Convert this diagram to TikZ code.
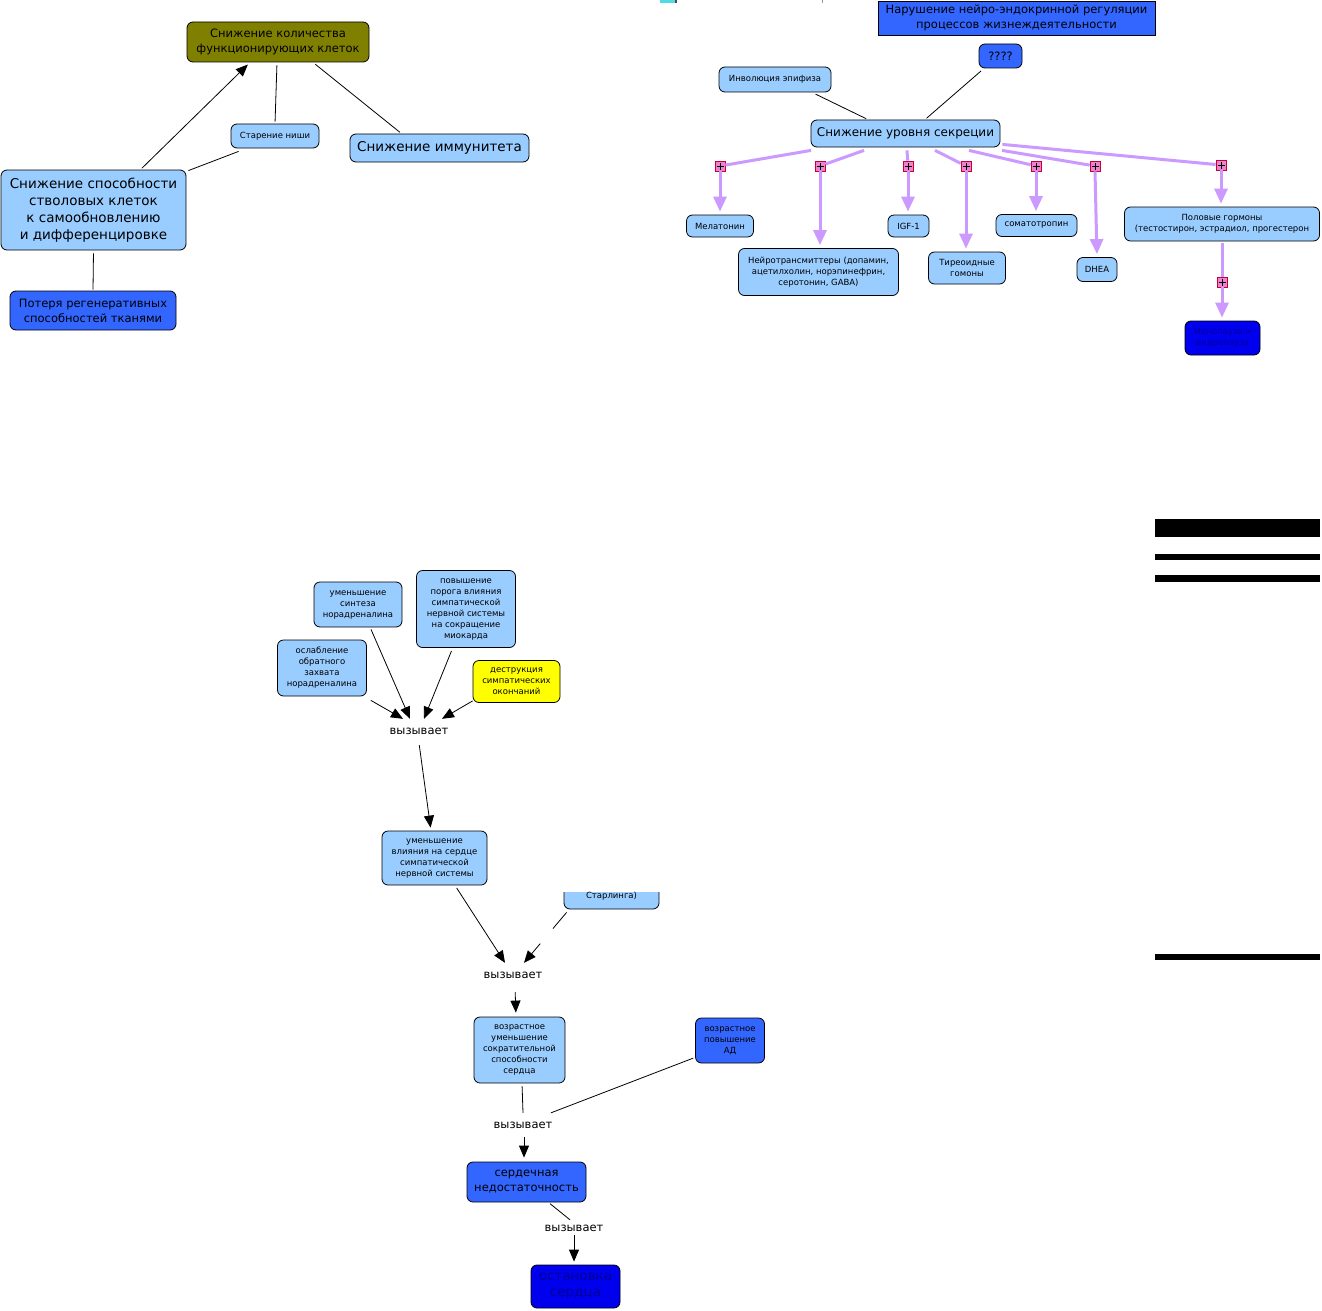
\documentclass[tikz,border=0pt]{standalone}
\usepackage{fontspec}
\setmainfont{DejaVu Sans}
\usetikzlibrary{arrows.meta,calc}
\definecolor{lb}{RGB}{153,204,255}
\definecolor{mb}{RGB}{51,102,255}
\definecolor{db}{RGB}{0,0,238}
\definecolor{dbt}{RGB}{0,0,150}
\definecolor{olv}{RGB}{128,128,0}
\definecolor{pur}{RGB}{204,153,255}
\definecolor{pinkf}{RGB}{235,130,210}
\definecolor{redb}{RGB}{200,0,50}
\definecolor{ylw}{RGB}{255,255,0}
\definecolor{cyanm}{RGB}{80,220,230}
\newcommand\fnA{\fontsize{8.5}{11}\selectfont}
\newcommand\fnB{\fontsize{11.5}{15}\selectfont}
\newcommand\fnC{\fontsize{13.5}{17}\selectfont}
\newcommand\fnL{\fontsize{11.5}{13}\selectfont}
\tikzset{
  box/.style={draw=black, line width=0.8pt, rounded corners=6pt, fill=lb, align=center, inner sep=0pt, font=\fnA},
  lbl/.style={font=\fnL, inner sep=0pt, minimum height=24pt},
  ln/.style={draw=black, line width=0.8pt},
  arr/.style={ln, -{Triangle[length=12pt,width=10pt]}},
  pln/.style={draw=pur, line width=3pt},
  parr/.style={draw=pur, line width=3pt, -{Triangle[length=15pt,width=13pt]}},
  plus/.style={draw=redb, fill=pinkf, line width=0.7pt, minimum size=10pt, inner sep=0pt,
    path picture={\draw[black, line width=0.7pt]
      ([xshift=-3.5pt]path picture bounding box.center) -- ([xshift=3.5pt]path picture bounding box.center)
      ([yshift=-3.5pt]path picture bounding box.center) -- ([yshift=3.5pt]path picture bounding box.center);}}
}
\begin{document}
\begin{tikzpicture}[x=1pt,y=-1pt]
\useasboundingbox[fill=white] (0,0) rectangle (1322,1311);

% small marks at top
\fill[cyanm] (660,0) rectangle (675,3);
\fill[black!70] (675,0) rectangle (677,3);
\fill[black!40] (821.5,0) rectangle (822.5,3);

% ---------- top left ----------
\node[box, fill=olv, font=\fnB, minimum width=182pt, minimum height=40pt] (N1) at (278,42) {Снижение количества\\функционирующих клеток};
\node[box, minimum width=88pt, minimum height=24pt] (N2) at (275,136) {Старение ниши};
\node[box, font=\fnC, minimum width=179pt, minimum height=28pt] (N3) at (439.5,148) {Снижение иммунитета};
\node[box, font=\fnC, minimum width=185pt, minimum height=80pt] (N4) at (93.5,210) {Снижение способности\\стволовых клеток\\к самообновлению\\и дифференцировке};
\node[box, fill=mb, font=\fnB, minimum width=166pt, minimum height=39pt] (N5) at (93,310.5) {Потеря регенеративных\\способностей тканями};

\draw[arr, shorten <=2pt, shorten >=3pt] ([xshift=47pt]N4.north) -- ([xshift=-28pt]N1.south);
\draw[ln, shorten <=2pt, shorten >=3pt] (N2.north) -- ([xshift=-1pt]N1.south);
\draw[ln, shorten <=3pt, shorten >=2pt] ([xshift=35pt]N1.south) -- ([xshift=-38pt]N3.north);
\draw[ln] ([xshift=2pt,yshift=-1pt]N4.north east) -- ([xshift=8pt,yshift=-3pt]N2.south west);
\draw[ln, shorten <=3pt, shorten >=1pt] (N4.south) -- (N5.north);

% ---------- top right ----------
\node[draw=black, line width=0.8pt, fill=mb, align=center, inner sep=0pt, font=\fnB, minimum width=277pt, minimum height=34pt] (R0) at (1016.5,18) {Нарушение нейро-эндокринной регуляции\\процессов жизнеждеятельности};
\node[box, fill=mb, font=\fnL, minimum width=43pt, minimum height=24pt] (R1) at (1000.5,56) {????};
\node[box, minimum width=112pt, minimum height=25pt] (R2) at (775,79.5) {Инволюция эпифиза};
\node[box, font=\fontsize{12}{15}\selectfont, minimum width=189pt, minimum height=27pt] (R3) at (905.5,133.5) {Снижение уровня секреции};

\draw[ln, shorten <=4pt, shorten >=2pt] ([xshift=37pt]R2.south) -- ([xshift=-37.5pt]R3.north);
\draw[ln, shorten <=4pt, shorten >=2pt] ([xshift=-16.5pt]R1.south) -- ([xshift=19.5pt]R3.north);

\node[box, minimum width=67pt, minimum height=22pt] (T1) at (720,226) {Мелатонин};
\node[box, minimum width=160pt, minimum height=47pt] (T2) at (818.5,272) {Нейротрансмиттеры (допамин,\\ацетилхолин, норэпинефрин,\\серотонин, GABA)};
\node[box, minimum width=41pt, minimum height=22pt] (T3) at (908.5,226) {IGF-1};
\node[box, minimum width=77pt, minimum height=32pt] (T4) at (967,268) {Тиреоидные\\гомоны};
\node[box, minimum width=81pt, minimum height=22pt] (T5) at (1036.5,225.5) {соматотропин};
\node[box, minimum width=40pt, minimum height=24pt] (T6) at (1097,269.5) {DHEA};
\node[box, minimum width=195pt, minimum height=34pt] (T7) at (1222,224) {Половые гормоны\\(тестостирон, эстрадиол, прогестерон};
\node[box, fill=db, text=dbt, minimum width=75pt, minimum height=34pt] (T8) at (1222.5,338) {Менопауза и\\андропауза};

\node[plus] (P1) at (720,166) {};
\node[plus] (P2) at (820,166) {};
\node[plus] (P3) at (908,166) {};
\node[plus] (P4) at (966,166) {};
\node[plus] (P5) at (1036,166) {};
\node[plus] (P6) at (1095,166) {};
\node[plus] (P7) at (1221,165) {};
\node[plus] (P8) at (1222,282) {};

\draw[pln] ([xshift=-94.5pt,yshift=-3pt]R3.south) -- (P1);
\draw[pln] ([xshift=-41.5pt,yshift=-3pt]R3.south) -- (P2);
\draw[pln] ([xshift=1.5pt,yshift=-3pt]R3.south) -- (P3);
\draw[pln] ([xshift=29.5pt,yshift=-3pt]R3.south) -- (P4);
\draw[pln] ([xshift=63.5pt,yshift=-3pt]R3.south) -- (P5);
\draw[pln] ([xshift=96.5pt,yshift=-3pt]R3.south) -- (P6);
\draw[pln] ([xshift=2pt,yshift=3pt]R3.south east) -- (P7);
\draw[pln, shorten <=2pt] (T7.south -| P8) -- (P8);

\draw[parr, shorten >=3pt] (P1.south) -- (P1.south |- T1.north);
\draw[parr, shorten >=3pt] (P2.south) -- (P2.south |- T2.north);
\draw[parr, shorten >=3pt] (P3.south) -- (P3.south |- T3.north);
\draw[parr, shorten >=3pt] (P4.south) -- (P4.south |- T4.north);
\draw[parr, shorten >=3pt] (P5.south) -- (P5.south |- T5.north);
\draw[parr, shorten >=3pt] (P6.south) -- (T6.north);
\draw[parr, shorten >=3pt] (P7.south) -- (P7.south |- T7.north);
\draw[parr, shorten >=3pt] (P8.south) -- (P8.south |- T8.north);

% ---------- bottom chain ----------
\node[box, minimum width=88pt, minimum height=45pt] (B1) at (358,604.5) {уменьшение\\синтеза\\норадреналина};
\node[box, minimum width=99pt, minimum height=77pt] (B2) at (466,609) {повышение\\порога влияния\\симпатической\\нервной системы\\на сокращение\\миокарда};
\node[box, minimum width=89pt, minimum height=56pt] (B3) at (322,668) {ослабление\\обратного\\захвата\\норадреналина};
\node[box, fill=ylw, minimum width=87pt, minimum height=42pt] (B4) at (516.5,681.5) {деструкция\\симпатических\\окончаний};
\node[lbl] (L1) at (419,731) {вызывает};

\draw[arr] ([xshift=4pt,yshift=-4pt]B3.south east) -- ([xshift=-16pt]L1.north);
\draw[arr] ([xshift=13pt,yshift=-2pt]B1.south) -- ([xshift=-9pt]L1.north);
\draw[arr] ([xshift=-14.5pt,yshift=-3pt]B2.south) -- ([xshift=5pt]L1.north);
\draw[arr] ([yshift=2pt]B4.south west) -- ([xshift=23pt]L1.north);

\node[box, minimum width=105pt, minimum height=54pt] (B5) at (434.5,858) {уменьшение\\влияния на сердце\\симпатической\\нервной системы};
\draw[arr, shorten <=2pt, shorten >=3pt] (L1.south) -- ([xshift=-3.5pt]B5.north);

\begin{scope}
\clip (540,892) rectangle (700,925);
\node[box, minimum width=95pt, minimum height=64pt] (S) at (611.5,877) {};
\end{scope}
\node[font=\fnA, inner sep=0pt] (St) at (611.5,896) {Старлинга)};

\node[lbl] (L2) at (513,975) {вызывает};
\draw[arr, shorten <=3pt] ([xshift=20.5pt]B5.south) -- ([xshift=-8pt]L2.north);
\coordinate (SA) at ([xshift=3pt,yshift=-3pt]S.south west);
\coordinate (SB) at ([xshift=11pt]L2.north);
\draw[ln] (SA) -- ($(SA)!0.32!(SB)$);
\draw[arr] ($(SA)!0.62!(SB)$) -- (SB);

\node[box, minimum width=91pt, minimum height=66pt] (B6) at (519.5,1050) {возрастное\\уменьшение\\сократительной\\способности\\сердца};
\draw[arr, shorten <=5pt, shorten >=4pt] ([xshift=2pt]L2.south) -- ([xshift=-3.5pt]B6.north);

\node[box, fill=mb, minimum width=69pt, minimum height=45pt] (B7) at (730,1040.5) {возрастное\\повышение\\АД};
\node[lbl] (L3) at (523,1125) {вызывает};
\draw[ln, shorten <=3pt] ([xshift=2.5pt]B6.south) -- (L3.north);
\draw[ln, shorten <=2pt] ([yshift=6pt]B7.south west) -- ([xshift=28pt]L3.north);

\node[box, fill=mb, font=\fnB, minimum width=119pt, minimum height=40pt] (B8) at (526.5,1182) {сердечная\\недостаточность};
\draw[arr, shorten >=4pt] ([xshift=1pt]L3.south) -- ([xshift=-2.5pt]B8.north);

\node[lbl] (L4) at (574,1228) {вызывает};
\draw[ln, shorten <=2pt] ([xshift=22pt]B8.south) -- ([xshift=-4pt,yshift=-4pt]L4.north);
\node[box, fill=db, text=dbt, font=\fontsize{13.5}{16}\selectfont, minimum width=89pt, minimum height=43pt] (B9) at (575.5,1286.5) {остановка\\сердца};
\draw[arr, shorten >=3pt] ([yshift=5pt]L4.south) -- ([xshift=-1.5pt]B9.north);

% ---------- black bars on the right ----------
\fill[black] (1155,519) rectangle (1320,537);
\fill[black] (1155,554) rectangle (1320,560);
\fill[black] (1155,575) rectangle (1320,582);
\fill[black] (1155,954) rectangle (1320,960);
\end{tikzpicture}
\end{document}
